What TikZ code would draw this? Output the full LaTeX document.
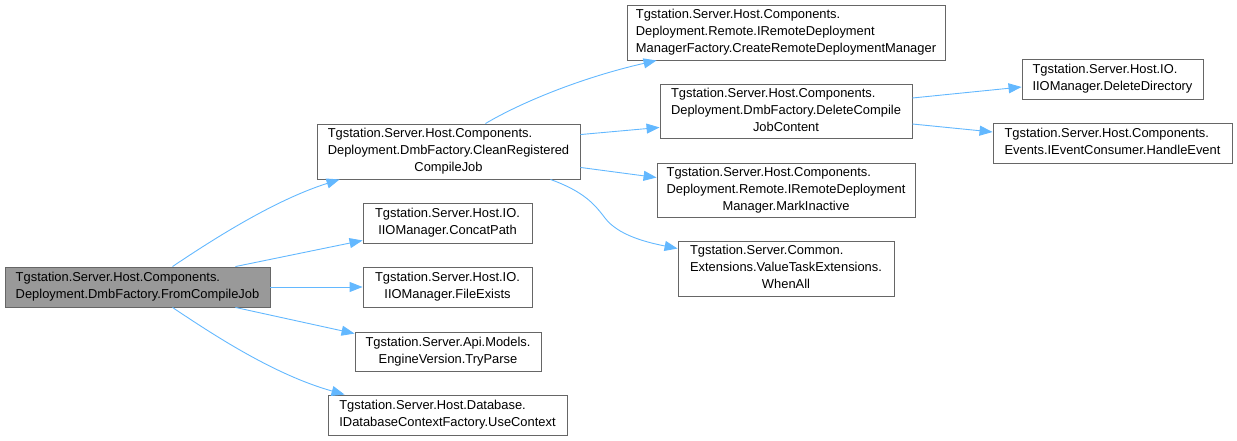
\documentclass[tikz,border=0pt]{standalone}
\usepackage{fontspec}
\setmainfont{Liberation Sans}
\usetikzlibrary{arrows.meta,calc}
\definecolor{edgeblue}{HTML}{63B8FF}
\definecolor{boxgray}{HTML}{666666}
\definecolor{curfill}{HTML}{999999}
\newcommand{\fnlabel}[2]{\begin{tabular}{@{}l@{}}#1\\\multicolumn{1}{@{}c@{}}{#2}\end{tabular}}
\tikzset{
  fn/.style={draw=boxgray, line width=0.9pt, fill=white, align=center, inner sep=0pt,
    font=\fontsize{12.9}{17}\selectfont},
  cur/.style={fn, fill=curfill},
  call/.style={draw=edgeblue, line width=0.9pt, -{Triangle[length=13pt,width=10pt]}}
}
\begin{document}
\begin{tikzpicture}[x=1pt,y=-1pt]
\useasboundingbox (0,0) rectangle (1237,441);
\node[cur, minimum width=265pt, minimum height=40pt] (from) at (137.5,287) {\fnlabel{Tgstation.Server.Host.Components.}{Deployment.DmbFactory.FromCompileJob}};
\node[fn, minimum width=263pt, minimum height=55pt] (clean) at (448.5,151.5) {\fnlabel{Tgstation.Server.Host.Components.\\Deployment.DmbFactory.CleanRegistered}{CompileJob}};
\node[fn, minimum width=169pt, minimum height=40pt] (concat) at (447.5,223) {\fnlabel{Tgstation.Server.Host.IO.}{IIOManager.ConcatPath}};
\node[fn, minimum width=169pt, minimum height=40pt] (exists) at (447.5,287) {\fnlabel{Tgstation.Server.Host.IO.}{IIOManager.FileExists}};
\node[fn, minimum width=186pt, minimum height=39pt] (parse) at (448,351.5) {\fnlabel{Tgstation.Server.Api.Models.}{EngineVersion.TryParse}};
\node[fn, minimum width=239pt, minimum height=40pt] (usectx) at (447.5,415) {\fnlabel{Tgstation.Server.Host.Database.}{IDatabaseContextFactory.UseContext}};
\node[fn, minimum width=318pt, minimum height=55pt] (create) at (786,32.5) {\fnlabel{Tgstation.Server.Host.Components.\\Deployment.Remote.IRemoteDeployment}{ManagerFactory.CreateRemoteDeploymentManager}};
\node[fn, minimum width=252pt, minimum height=54pt] (delete) at (786,111) {\fnlabel{Tgstation.Server.Host.Components.\\Deployment.DmbFactory.DeleteCompile}{JobContent}};
\node[fn, minimum width=258pt, minimum height=54pt] (mark) at (786,190) {\fnlabel{Tgstation.Server.Host.Components.\\Deployment.Remote.IRemoteDeployment}{Manager.MarkInactive}};
\node[fn, minimum width=216pt, minimum height=55pt] (whenall) at (786,268.5) {\fnlabel{Tgstation.Server.Common.\\Extensions.ValueTaskExtensions.}{WhenAll}};
\node[fn, minimum width=181pt, minimum height=40pt] (deldir) at (1112.5,79) {\fnlabel{Tgstation.Server.Host.IO.}{IIOManager.DeleteDirectory}};
\node[fn, minimum width=239pt, minimum height=40pt] (handle) at (1112.5,143) {\fnlabel{Tgstation.Server.Host.Components.}{Events.IEventConsumer.HandleEvent}};

% edges from FromCompileJob
\draw[call] ([xshift=35pt]from.north) .. controls (215,238) and (275,200) .. ([xshift=23pt]clean.south west);
\draw[call] ([xshift=-35pt]from.north east) -- ([yshift=3pt]concat.south west);
\draw[call] (from.east) -- (exists.west);
\draw[call] ([xshift=-35pt]from.south east) -- ([yshift=-2pt]parse.north west);
\draw[call] ([xshift=35pt]from.south) .. controls (215,336) and (275,375) .. ([xshift=17pt]usectx.north west);
% edges from CleanRegisteredCompileJob
\draw[call] ([xshift=-95pt]clean.north east) .. controls (520,103) and (580,78) .. ([xshift=30pt]create.south west);
\draw[call] ([yshift=-11pt]clean.north east) -- ([yshift=11pt]delete.south west);
\draw[call] ([yshift=12pt]clean.south east) -- ([yshift=-15pt]mark.north west);
\draw[call] ([xshift=-30pt]clean.south east) .. controls (585,192) and (595,205) .. (605,218) .. controls (618,235) and (645,242) .. ([yshift=-8pt]whenall.north west);
% edges from DeleteCompileJobContent
\draw[call] ([yshift=13pt]delete.east) -- ([yshift=-8pt]deldir.west);
\draw[call] ([yshift=-13pt]delete.east) -- ([yshift=11pt]handle.west);
\end{tikzpicture}
\end{document}
